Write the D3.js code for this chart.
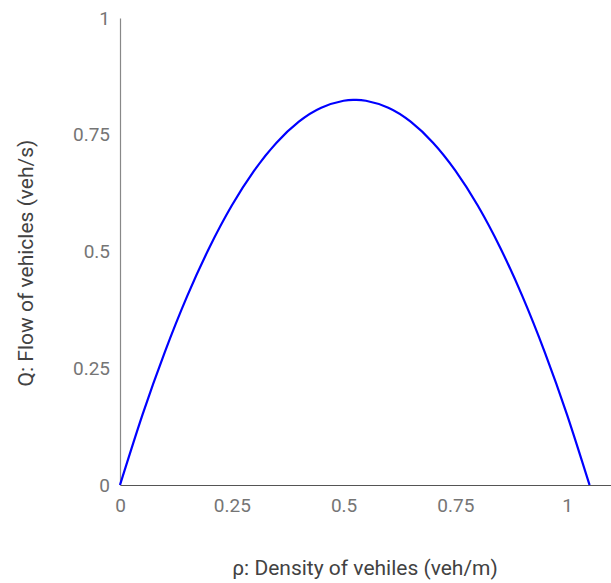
<!DOCTYPE html>
<html><head><meta charset="utf-8">
<script src="https://cdn.jsdelivr.net/npm/d3@7"></script>
<style>body{margin:0;background:#fff;}svg{display:block;font-family:Roboto,sans-serif;}</style>
</head><body>
<svg id="c" width="611" height="583"></svg>
<script>
const density = [0,0.05,0.1,0.15,0.2,0.25,0.3,0.35,0.4,0.45,0.5,0.525,0.55,0.6,0.65,0.7,0.75,0.8,0.85,0.9,0.95,1.0,1.05];
const flow =    [0,0.1496,0.2842,0.4039,0.5086,0.5984,0.6732,0.7330,0.7779,0.8078,0.8228,0.8247,0.8228,0.8078,0.7779,0.7330,0.6732,0.5984,0.5086,0.4039,0.2842,0.1496,0];
const xTicks = [0,0.25,0.5,0.75,1];
const yTicks = [0,0.25,0.5,0.75,1];
const xLabel = "ρ: Density of vehiles (veh/m)";
const yLabel = "Q: Flow of vehicles (veh/s)";

const svg = d3.select("#c");
const m = {l:120, r:0, t:18, b:98};
const W = 611, H = 583;
const x = d3.scaleLinear().domain([0,1.098]).range([m.l, W-m.r]);
const y = d3.scaleLinear().domain([0,1]).range([H-m.b, m.t]);

const fmt = d => d3.format("~g")(d);
const xa = svg.append("g").attr("transform",`translate(0,${y(0)})`)
  .call(d3.axisBottom(x).tickValues(xTicks).tickSize(0).tickPadding(14).tickFormat(fmt));
xa.select(".domain").attr("stroke","#555").attr("stroke-width",1.2);
xa.selectAll("text").attr("fill","#757575").style("font-size","19px").style("font-family","Roboto");

const ya = svg.append("g").attr("transform",`translate(${x(0)},0)`)
  .call(d3.axisLeft(y).tickValues(yTicks).tickSize(0).tickPadding(10).tickFormat(fmt));
ya.select(".domain").attr("stroke","#888").attr("stroke-width",1.2);
ya.selectAll("text").attr("fill","#757575").style("font-size","19px").style("font-family","Roboto");

const line = d3.line().x((d,i)=>x(density[i])).y(d=>y(d)).curve(d3.curveNatural);
svg.append("path").datum(flow).attr("d",line).attr("fill","none").attr("stroke","#0000ff").attr("stroke-width",2.2);

svg.append("text").attr("x",365).attr("y",575).attr("text-anchor","middle")
  .attr("fill","#424242").style("font-size","21px").text(xLabel);
svg.append("text").attr("transform",`translate(33,263) rotate(-90)`).attr("text-anchor","middle")
  .attr("fill","#424242").style("font-size","21px").text(yLabel);
</script>
</body></html>
